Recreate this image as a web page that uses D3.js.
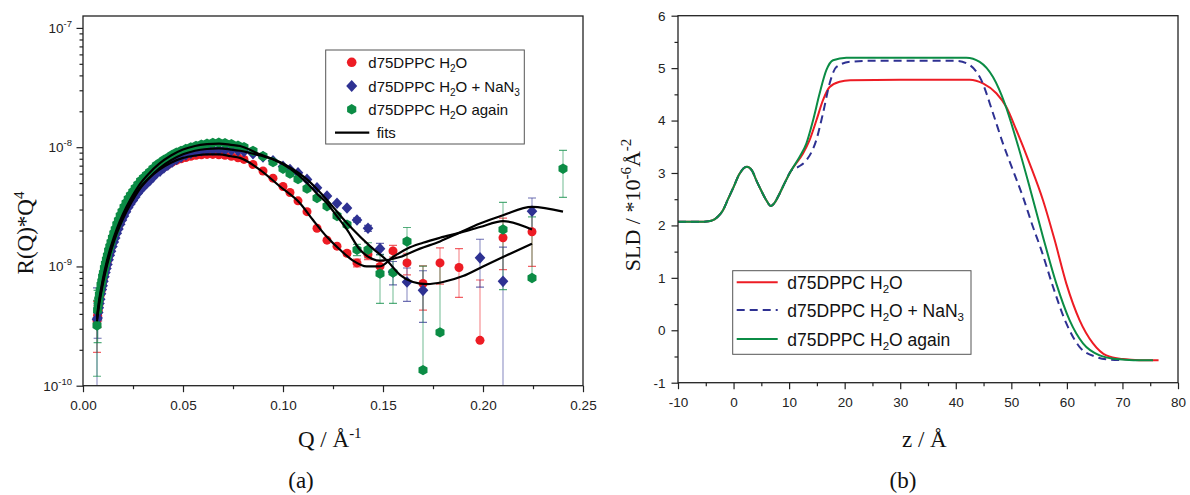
<!DOCTYPE html>
<html><head><meta charset="utf-8">
<script src="https://cdn.jsdelivr.net/npm/d3@7/dist/d3.min.js"></script>
<style>body{margin:0;background:#fff}svg{display:block}</style>
</head><body>
<svg id="c" width="1190" height="495"></svg>
<script>
// ---------- Panel (a): reflectivity * Q^4 (values in units of 1e-9) ----------
const UNIT = 1e-9;
const qGrid = [0.0070,0.0073,0.0076,0.0079,0.0082,0.0086,0.0090,0.0094,0.0098,0.0102,
0.0107,0.0112,0.0117,0.0122,0.0128,0.0134,0.0140,0.0147,0.0154,0.0161,
0.0169,0.0177,0.0186,0.0195,0.0205,0.0215,0.0226,0.0237,0.0249,0.0261,
0.0274,0.0288,0.0302,0.0317,0.0333,0.0350,0.0367,0.0385,0.0404,0.0424,
0.0445,0.0467,0.0490,0.0514,0.0539,0.0565,0.0592,0.0620,0.0649,0.0679,
0.0710,0.0742,0.0775,0.0805,0.0850,0.0900,0.0950,0.1000,0.1035,0.1075,
0.1120,0.1170,0.1220,0.1270,0.1320,0.1370,0.1425,0.1485,0.1550,0.1620,
0.1700,0.1785,0.1880,0.1985,0.2100,0.2245,0.2400];
const redR = [0.35,0.39,0.43,0.47,0.52,0.57,0.62,0.68,0.73,0.79,
0.87,0.95,1.02,1.11,1.22,1.32,1.43,1.57,1.70,1.84,
2.02,2.19,2.40,2.60,2.82,3.06,3.30,3.54,3.78,4.05,
4.33,4.62,4.88,5.15,5.43,5.80,6.18,6.45,6.80,7.10,
7.45,7.75,8.00,8.20,8.40,8.55,8.65,8.70,8.70,8.65,
8.55,8.40,8.15,7.90,7.16,6.31,5.50,4.68,4.17,3.55,
2.88,2.09,1.66,1.48,1.29,1.07,1.26,1.00,1.35,1.07,
0.72,1.07,0.98,0.24,1.74,1.95,null];
const blueR = [0.36,0.37,0.41,0.45,0.49,0.53,0.59,0.64,0.69,0.75,
0.82,0.89,0.96,1.04,1.14,1.24,1.34,1.47,1.60,1.73,
1.90,2.06,2.26,2.45,2.65,2.87,3.12,3.34,3.58,3.83,
4.11,4.40,4.66,4.94,5.23,5.60,6.01,6.30,6.70,7.05,
7.50,7.90,8.25,8.60,8.90,9.15,9.35,9.45,9.50,9.50,
9.50,9.45,9.35,9.20,8.80,8.30,7.70,6.90,6.50,6.10,
5.37,4.57,3.90,3.39,3.09,2.45,2.09,1.41,0.90,0.74,
0.63,null,null,1.18,0.75,2.90,null];
const greenR = [0.32,0.43,0.48,0.53,0.58,0.63,0.70,0.75,0.82,0.88,
0.97,1.05,1.14,1.23,1.36,1.47,1.59,1.74,1.89,2.05,
2.25,2.43,2.67,2.89,3.14,3.40,3.68,3.95,4.23,4.53,
4.86,5.21,5.51,5.84,6.19,6.60,7.05,7.40,7.80,8.15,
8.60,9.00,9.30,9.65,9.95,10.25,10.50,10.70,10.85,10.90,
10.80,10.60,10.30,10.00,9.30,8.40,7.50,6.60,6.00,5.40,
4.50,3.75,3.20,2.65,2.24,1.38,1.38,0.87,0.89,1.62,
0.135,0.28,null,null,2.04,0.80,6.60];
const redErr = [0.16,0.08,0.05,0,0,0,0,0,0,0, 0,0,0,0,0,0,0,0,0,0, 0,0,0,0,0,0,0,0,0,0,
0,0,0,0,0,0,0,0,0,0, 0,0,0,0,0,0,0,0,0,0, 0,0,0,0,0,0,0,0,0,0,
0,0,0,0,0.06,0.08,0.12,0.10,0.15,0.22, 0.29,0.36,0.43,0.53,0.80,0.95,0];
const blueErr = [0.30,0.12,0.06,0,0,0,0,0,0,0, 0,0,0,0,0,0,0,0,0,0, 0,0,0,0,0,0,0,0,0,0,
0,0,0,0,0,0,0,0,0,0, 0,0,0,0,0,0,0,0,0,0, 0,0,0,0,0,0,0,0,0,0,
0,0,0,0,0,0.10,0.12,0.15,0.20,0.23, 0.29,0,0,0.51,0.70,0.85,0];
const greenErr = [0.20,0.20,0.06,0,0,0,0,0,0,0, 0,0,0,0,0,0,0,0,0,0, 0,0,0,0,0,0,0,0,0,0,
0,0,0,0,0,0,0,0,0,0, 0,0,0,0,0,0,0,0,0,0, 0,0,0,0,0,0,0,0,0,0,
0,0,0,0,0.10,0.15,0.20,0.38,0.40,0.50, 0.87,0.80,0,0,1.40,1.80,2.80];

const fitRedQ = [0.007,0.008,0.009,0.010,0.012,0.014,0.017,0.020,0.024,0.028,0.033,0.038,0.044,0.050,0.056,0.062,0.068,0.074,0.0785,0.0885,0.0985,0.1085,0.115,0.1218,0.1285,0.135,0.1418,0.1485,0.155,0.162,0.170,0.1785,0.188,0.1985,0.210,0.2245];
const fitRedR = [0.363,0.49,0.617,0.759,1.07,1.41,2.0,2.63,3.55,4.47,5.5,6.46,7.41,8.13,8.5,8.7,8.7,8.4,8.13,6.46,4.68,3.39,2.45,1.78,1.38,1.12,1.0,1.0,1.20,1.41,1.58,1.74,1.91,2.14,2.40,2.04];
const fitBlueQ = [0.007,0.008,0.009,0.010,0.012,0.014,0.017,0.020,0.024,0.028,0.033,0.038,0.044,0.050,0.056,0.062,0.068,0.074,0.0785,0.0885,0.095,0.1035,0.112,0.118,0.125,0.130,0.135,0.1435,0.152,0.1585,0.165,0.172,0.180,0.190,0.200,0.210,0.2245];
const fitBlueR = [0.347,0.468,0.589,0.724,1.02,1.35,1.91,2.51,3.39,4.37,5.5,6.61,7.76,8.71,9.33,9.66,9.77,9.55,9.33,8.51,7.94,6.76,5.37,4.27,3.16,2.51,2.04,1.48,1.12,0.85,0.74,0.71,0.74,0.83,1.0,1.20,1.55];
const fitGreenQ = [0.007,0.008,0.009,0.010,0.012,0.014,0.017,0.020,0.024,0.028,0.033,0.038,0.044,0.050,0.056,0.062,0.068,0.074,0.0785,0.0885,0.095,0.1035,0.112,0.117,0.122,0.127,0.132,0.1385,0.1485,0.1585,0.1685,0.1785,0.188,0.1985,0.210,0.2245,0.240];
const fitGreenR = [0.38,0.513,0.646,0.794,1.12,1.48,2.09,2.75,3.72,4.79,6.03,7.24,8.51,9.55,10.23,10.59,10.72,10.47,10.23,8.71,7.94,6.61,5.01,4.07,3.39,2.63,2.04,1.38,1.12,1.20,1.41,1.62,1.91,2.29,2.69,3.16,2.88];

const qTicks = [0,0.05,0.10,0.15,0.20,0.25];
const qTickLabels = ["0.00","0.05","0.10","0.15","0.20","0.25"];
const qMinorTicks = [0.025,0.075,0.125,0.175,0.225];
const rDecades = [-10,-9,-8,-7];
const legendA = ["d75DPPC H|2|O","d75DPPC H|2|O + NaN|3|","d75DPPC H|2|O again","fits"];

// ---------- Panel (b): SLD profiles ----------
const zRed = [-10,-6,-4.5,-3.7,-2.8,-1.9,-1,0,1,2.4,3.3,4.1,5,5.9,6.7,7.5,8.3,9.3,10.4,12.5,13.7,14.9,16.1,17.3,19.1,21,30,42.5,44.9,47.3,49.1,50.9,53.3,55.7,57.8,59.9,62.3,64.7,67.1,70.1,73,76.5];
const sldRed = [2.07,2.07,2.08,2.10,2.17,2.29,2.50,2.73,2.97,3.12,3.05,2.86,2.66,2.48,2.37,2.45,2.61,2.83,3.05,3.37,3.63,4.0,4.39,4.64,4.74,4.77,4.78,4.78,4.71,4.52,4.26,3.82,3.18,2.48,1.72,0.89,0.19,-0.25,-0.48,-0.55,-0.57,-0.57];
const zBlue = [-10,-6,-4.5,-3.7,-2.8,-1.9,-1,0,1,2.4,3.3,4.1,5,5.9,6.7,7.5,8.3,9.3,10.4,11.7,13.1,14.9,16.1,17.3,18.5,20.9,25,32,40.1,42.5,44.6,46.7,48.5,50.3,52.1,53.9,55.4,57.5,59.9,62.3,65.3,67.7,70];
const sldBlue = [2.07,2.07,2.08,2.10,2.17,2.29,2.50,2.73,2.97,3.12,3.05,2.86,2.66,2.48,2.37,2.45,2.61,2.83,3.05,3.12,3.24,3.63,4.14,4.71,5.02,5.12,5.14,5.14,5.14,5.06,4.77,4.14,3.56,3.05,2.54,1.97,1.53,0.83,0.13,-0.32,-0.51,-0.56,-0.57];
const zGreen = [-10,-6,-4.5,-3.7,-2.8,-1.9,-1,0,1,2.4,3.3,4.1,5,5.9,6.7,7.5,8.3,9.3,10.4,11.9,13.1,14.3,15.5,16.7,17.9,20.3,30,41.9,44.3,46.7,48.8,50.9,53.3,55.7,58.1,60.5,62.9,65.9,68.9,72,75.5];
const sldGreen = [2.07,2.07,2.08,2.10,2.17,2.29,2.50,2.73,2.97,3.12,3.05,2.86,2.66,2.48,2.37,2.45,2.61,2.83,3.05,3.31,3.56,4.0,4.52,4.96,5.15,5.20,5.20,5.20,5.12,4.83,4.33,3.63,2.73,1.78,0.89,0.19,-0.25,-0.48,-0.55,-0.57,-0.57];

const zTicks = [-10,0,10,20,30,40,50,60,70,80];
const zTickLabels = ["-10","0","10","20","30","40","50","60","70","80"];
const zMinorTicks = [-5,5,15,25,35,45,55,65,75];
const sldTicks = [-1,0,1,2,3,4,5,6];
const sldTickLabels = ["-1","0","1","2","3","4","5","6"];
const sldMinorTicks = [-0.5,0.5,1.5,2.5,3.5,4.5,5.5];
const legendB = ["d75DPPC H|2|O","d75DPPC H|2|O + NaN|3|","d75DPPC H|2|O again"];

// ---------- styles ----------
const RED = "#ED1C24", BLUE = "#2E3192", GREEN = "#0B8C45";
const SANS = "'Liberation Sans', Arial, sans-serif";
const SERIF = "'Liberation Serif', 'Times New Roman', serif";
const AXC = "#222";

const svg = d3.select("#c");

// helper: text with subscripts. parts separated by '|', odd parts subscript
function subText(sel, str, subSize){
  const parts = str.split("|");
  parts.forEach((p,i)=>{
    if(p==="") return;
    if(i%2===1){
      sel.append("tspan").attr("dy",4).attr("font-size",subSize).text(p);
    } else {
      sel.append("tspan").attr("dy", i===0?0:-4).text(p);
    }
  });
}

// ================= Panel (a) =================
const A = {x0:83, x1:583, y0:385.7, y1:16};
const xQ = d3.scaleLinear().domain([0,0.25]).range([A.x0,A.x1]);
const yR = d3.scaleLog().domain([1e-10, Math.pow(10,-6.9)]).range([A.y0,A.y1]);

const gA = svg.append("g");
svg.append("clipPath").attr("id","clipA").append("rect")
  .attr("x",A.x0).attr("y",A.y1).attr("width",A.x1-A.x0).attr("height",A.y0-A.y1);

function styleAxis(g){
  g.select(".domain").remove();
  g.selectAll(".tick line").attr("stroke",AXC).attr("stroke-width",1.2);
  g.selectAll("text").attr("fill",AXC).attr("font-family",SANS).attr("font-size",13.5);
}
gA.append("g").attr("transform",`translate(0,${A.y0})`)
  .call(d3.axisBottom(xQ).tickValues(qMinorTicks).tickSize(3.5).tickFormat("")).call(styleAxis);
gA.append("g").attr("transform",`translate(0,${A.y0})`)
  .call(d3.axisBottom(xQ).tickValues(qTicks).tickSize(6.5).tickPadding(8.5).tickFormat((d,i)=>qTickLabels[i])).call(styleAxis);

const rMinor = [];
rDecades.forEach(e=>{ for(let k=2;k<=9;k++){ const v=k*Math.pow(10,e); if(v<=yR.domain()[1]) rMinor.push(v);} });
const rMajor = rDecades.map(e=>Math.pow(10,e));
gA.append("g").attr("transform",`translate(${A.x0},0)`)
  .call(d3.axisLeft(yR).tickValues(rMinor).tickSize(3.5).tickFormat("")).call(styleAxis);
gA.append("g").attr("transform",`translate(${A.x0},0)`)
  .call(d3.axisLeft(yR).tickValues(rMajor).tickSize(6.5).tickFormat("")).call(styleAxis);
rDecades.forEach(e=>{
  const t = gA.append("text").attr("x",72).attr("y",yR(Math.pow(10,e))+5)
    .attr("text-anchor","end").attr("font-family",SANS).attr("fill",AXC).attr("font-size",13.5);
  t.append("tspan").text("10");
  t.append("tspan").attr("dy",-6).attr("font-size",9.5).text(String(e));
});

// error bars
const gErr = gA.append("g").attr("clip-path","url(#clipA)");
function drawErr(vals, errs, color){
  qGrid.forEach((q,i)=>{
    if(vals[i]==null || !errs[i]) return;
    const v = vals[i]*UNIT, e = errs[i]*UNIT;
    const x = xQ(q), yt = yR(v+e);
    let yb, capB = true;
    if(v-e<=0){ yb = yR(v); capB=false; }
    else if(v-e<1e-10){ yb = A.y0; capB=false; }
    else yb = yR(v-e);
    gErr.append("line").attr("x1",x).attr("x2",x).attr("y1",yt).attr("y2",yb)
      .attr("stroke",color).attr("stroke-opacity",0.45).attr("stroke-width",1.3);
    gErr.append("line").attr("x1",x-4).attr("x2",x+4).attr("y1",yt).attr("y2",yt)
      .attr("stroke",color).attr("stroke-opacity",0.7).attr("stroke-width",1.2);
    if(capB) gErr.append("line").attr("x1",x-4).attr("x2",x+4).attr("y1",yb).attr("y2",yb)
      .attr("stroke",color).attr("stroke-opacity",0.7).attr("stroke-width",1.2);
  });
}
drawErr(redR, redErr, RED);
drawErr(blueR, blueErr, BLUE);
drawErr(greenR, greenErr, GREEN);

const hexPath = (r)=>{ const p=[]; for(let k=0;k<6;k++){ const a=Math.PI/3*k - Math.PI/2; p.push([r*Math.cos(a), r*Math.sin(a)]);} return "M"+p.map(d=>d.join(",")).join("L")+"Z"; };
const diamondPath = (r)=>`M0,${-r}L${r*0.92},0L0,${r}L${-r*0.92},0Z`;

const gPts = gA.append("g").attr("clip-path","url(#clipA)");
function pts(vals){ return qGrid.map((q,i)=>({q, v:vals[i]})).filter(d=>d.v!=null); }
gPts.append("g").selectAll("circle").data(pts(redR)).join("circle")
  .attr("cx",d=>xQ(d.q)).attr("cy",d=>yR(d.v*UNIT)).attr("r",4.5).attr("fill",RED);
gPts.append("g").selectAll("path").data(pts(blueR)).join("path")
  .attr("transform",d=>`translate(${xQ(d.q)},${yR(d.v*UNIT)})`).attr("d",diamondPath(5.8)).attr("fill",BLUE);
gPts.append("g").selectAll("path").data(pts(greenR)).join("path")
  .attr("transform",d=>`translate(${xQ(d.q)},${yR(d.v*UNIT)})`).attr("d",hexPath(5.2)).attr("fill",GREEN);

const fitLine = d3.line().x(d=>xQ(d[0])).y(d=>yR(d[1]*UNIT)).curve(d3.curveMonotoneX);
[[fitRedQ,fitRedR],[fitBlueQ,fitBlueR],[fitGreenQ,fitGreenR]].forEach(([qs,rs])=>{
  gPts.append("path").attr("d",fitLine(qs.map((q,i)=>[q,rs[i]])))
    .attr("fill","none").attr("stroke","#000").attr("stroke-width",2.2);
});

gA.append("rect").attr("x",A.x0).attr("y",A.y1).attr("width",A.x1-A.x0).attr("height",A.y0-A.y1)
  .attr("fill","none").attr("stroke",AXC).attr("stroke-width",1.3);

// legend (a)
const legA = gA.append("g");
legA.append("rect").attr("x",325.7).attr("y",50).attr("width",198.6).attr("height",94)
  .attr("fill","#fff").attr("stroke","#555").attr("stroke-width",1);
const legAy = [62.3,86,109.3,132.7];
legA.append("circle").attr("cx",351.7).attr("cy",legAy[0]).attr("r",4.8).attr("fill",RED);
legA.append("path").attr("transform",`translate(351.7,${legAy[1]})`).attr("d",diamondPath(6)).attr("fill",BLUE);
legA.append("path").attr("transform",`translate(351.7,${legAy[2]})`).attr("d",hexPath(5.3)).attr("fill",GREEN);
legA.append("line").attr("x1",335).attr("x2",369.3).attr("y1",legAy[3]).attr("y2",legAy[3]).attr("stroke","#000").attr("stroke-width",2.2);
legendA.forEach((s,i)=>{
  const t = legA.append("text").attr("x", i===3?376.7:368.3).attr("y",legAy[i]+5.5)
    .attr("font-family",SANS).attr("font-size",15).attr("fill","#111");
  subText(t, s, 10);
});

// axis titles (a)
const tya = svg.append("text").attr("transform","translate(33,233) rotate(-90)")
  .attr("text-anchor","middle").attr("font-family",SERIF).attr("font-size",23).attr("fill","#111");
tya.append("tspan").text("R(Q)*Q");
tya.append("tspan").attr("dy",-9).attr("font-size",15).text("4");
const txa = svg.append("text").attr("x",298).attr("y",447)
  .attr("font-family",SERIF).attr("font-size",23).attr("fill","#111");
txa.append("tspan").text("Q / Å");
txa.append("tspan").attr("dy",-9).attr("font-size",15).text("-1");
svg.append("text").attr("x",301).attr("y",488).attr("text-anchor","middle")
  .attr("font-family",SERIF).attr("font-size",23).attr("fill","#111").text("(a)");

// ================= Panel (b) =================
const B = {x0:678, x1:1178, y0:382.7, y1:15.7};
const xZ = d3.scaleLinear().domain([-10,80]).range([B.x0,B.x1]);
const yS = d3.scaleLinear().domain([-1,6]).range([B.y0,B.y1]);
const gB = svg.append("g");
svg.append("clipPath").attr("id","clipB").append("rect")
  .attr("x",B.x0).attr("y",B.y1).attr("width",B.x1-B.x0).attr("height",B.y0-B.y1);

gB.append("g").attr("transform",`translate(0,${B.y0})`)
  .call(d3.axisBottom(xZ).tickValues(zMinorTicks).tickSize(3.5).tickFormat("")).call(styleAxis);
gB.append("g").attr("transform",`translate(0,${B.y0})`)
  .call(d3.axisBottom(xZ).tickValues(zTicks).tickSize(6.5).tickPadding(8).tickFormat((d,i)=>zTickLabels[i])).call(styleAxis);
gB.append("g").attr("transform",`translate(${B.x0},0)`)
  .call(d3.axisLeft(yS).tickValues(sldMinorTicks).tickSize(3.5).tickFormat("")).call(styleAxis);
gB.append("g").attr("transform",`translate(${B.x0},0)`)
  .call(d3.axisLeft(yS).tickValues(sldTicks).tickSize(6.5).tickPadding(6).tickFormat((d,i)=>sldTickLabels[i])).call(styleAxis);

const sldLine = d3.line().x(d=>xZ(d[0])).y(d=>yS(d[1])).curve(d3.curveMonotoneX);
const gL = gB.append("g").attr("clip-path","url(#clipB)");
gL.append("path").attr("d",sldLine(zRed.map((z,i)=>[z,sldRed[i]])))
  .attr("fill","none").attr("stroke",RED).attr("stroke-width",2);
gL.append("path").attr("d",sldLine(zBlue.map((z,i)=>[z,sldBlue[i]])))
  .attr("fill","none").attr("stroke",BLUE).attr("stroke-width",2).attr("stroke-dasharray","8,5");
gL.append("path").attr("d",sldLine(zGreen.map((z,i)=>[z,sldGreen[i]])))
  .attr("fill","none").attr("stroke",GREEN).attr("stroke-width",2);

gB.append("rect").attr("x",B.x0).attr("y",B.y1).attr("width",B.x1-B.x0).attr("height",B.y0-B.y1)
  .attr("fill","none").attr("stroke",AXC).attr("stroke-width",1.3);

// legend (b)
const legB = gB.append("g");
legB.append("rect").attr("x",732.7).attr("y",270.7).attr("width",238.3).attr("height",83.6)
  .attr("fill","#fff").attr("stroke","#555").attr("stroke-width",1);
const legBy = [282.3,310,339];
const legBstyle = [[RED,null],[BLUE,"8,5"],[GREEN,null]];
legendB.forEach((s,i)=>{
  const l = legB.append("line").attr("x1",736.7).attr("x2",777.7).attr("y1",legBy[i]).attr("y2",legBy[i])
    .attr("stroke",legBstyle[i][0]).attr("stroke-width",2);
  if(legBstyle[i][1]) l.attr("stroke-dasharray",legBstyle[i][1]);
  const t = legB.append("text").attr("x",787.3).attr("y",legBy[i]+6.5)
    .attr("font-family",SANS).attr("font-size",17.5).attr("fill","#111");
  subText(t, s, 11.5);
});

// axis titles (b)
const tyb = svg.append("text").attr("transform","translate(640,205) rotate(-90)")
  .attr("text-anchor","middle").attr("font-family",SERIF).attr("font-size",22).attr("fill","#111");
tyb.append("tspan").text("SLD / *10");
tyb.append("tspan").attr("dy",-9).attr("font-size",15).text("-6");
tyb.append("tspan").attr("dy",9).text("Å");
tyb.append("tspan").attr("dy",-9).attr("font-size",15).text("-2");
const txb = svg.append("text").attr("x",902).attr("y",447)
  .attr("font-family",SERIF).attr("font-size",23).attr("fill","#111");
txb.append("tspan").text("z / Å");
svg.append("text").attr("x",903).attr("y",488).attr("text-anchor","middle")
  .attr("font-family",SERIF).attr("font-size",23).attr("fill","#111").text("(b)");
</script>
</body></html>
